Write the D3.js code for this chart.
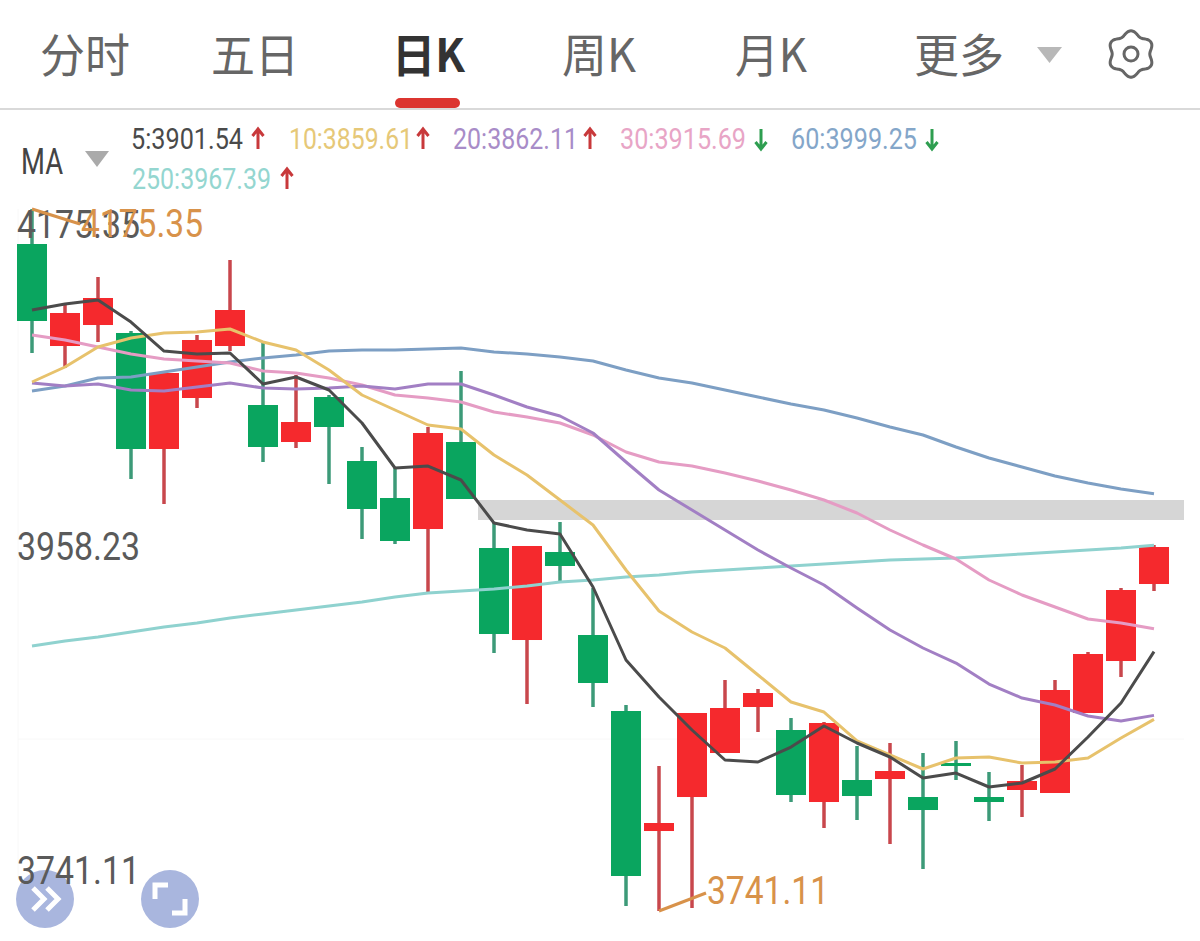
<!DOCTYPE html>
<html>
<head>
<meta charset="utf-8">
<script src="https://cdn.jsdelivr.net/npm/d3@7/dist/d3.min.js"></script>
<style>
html,body{margin:0;padding:0;background:#fff;}
svg{display:block;}
text{font-family:Roboto,"Noto Sans CJK SC",sans-serif;}
</style>
</head>
<body>
<div id="chart"></div>
<script>
const tabs = ["分时","五日","日K","周K","月K","更多"];
const maLabels = ["5:3901.54","10:3859.61","20:3862.11","30:3915.69","60:3999.25","250:3967.39"];
const maDirections = ["up","up","up","down","down","up"];
const priceTicks = [4175.35,3958.23,3741.11];
const priceMax = 4175.35, priceMin = 3741.11;

const opens = [4153.70,4090.60,4103.59,4098.65,4026.89,4058.44,4090.60,4054.11,4031.22,4059.06,4019.47,3996.58,3977.40,4031.22,3965.65,3908.74,3963.18,3911.83,3864.82,3790.59,3811.62,3838.84,3867.30,3853.07,3808.53,3822.14,3822.76,3811.62,3832.66,3811.62,3815.96,3814.10,3863.59,3895.75,3943.38];
const highs = [4175.35,4115.97,4133.29,4099.88,4073.90,4097.41,4143.80,4092.46,4072.67,4060.29,4028.13,4015.76,4040.50,4075.14,3981.73,3966.89,3981.73,3940.91,3868.53,3830.80,3863.59,3884.00,3878.43,3860.49,3858.02,3843.17,3845.03,3838.84,3846.27,3827.09,3831.42,3884.00,3901.32,3940.91,3967.51];
const lows = [4086.27,4077.00,4093.08,4008.33,3992.87,4052.25,4087.51,4018.85,4027.51,4005.24,3971.22,3968.13,3938.43,3995.96,3900.70,3869.15,3945.24,3867.30,3744.20,3741.11,3742.96,3838.84,3851.83,3808.53,3792.45,3797.40,3782.55,3767.09,3822.14,3796.78,3799.25,3814.10,3863.59,3885.85,3939.05];
const closes = [4106.07,4111.02,4120.30,4026.89,4073.90,4094.32,4112.87,4028.13,4043.59,4040.50,3989.78,3969.98,4036.79,3995.96,3912.45,3966.89,3954.52,3882.14,3762.76,3795.54,3863.59,3866.68,3875.96,3812.86,3857.40,3812.24,3827.71,3803.58,3830.80,3808.53,3821.52,3877.81,3900.08,3939.67,3966.27];

const ma5 = [4112.87,4116.58,4119.06,4105.45,4087.51,4085.66,4086.27,4067.10,4071.43,4063.39,4042.97,4015.14,4016.37,4007.72,3981.12,3976.79,3974.31,3941.53,3896.37,3873.48,3853.07,3834.51,3833.28,3842.55,3855.54,3845.03,3836.37,3823.38,3826.47,3817.81,3820.29,3828.95,3848.74,3869.77,3901.54];
const ma10 = [4068.34,4077.61,4089.99,4095.55,4098.65,4099.26,4101.12,4093.08,4088.13,4075.76,4060.29,4051.02,4041.74,4039.26,4023.18,4010.81,3995.34,3979.88,3952.04,3926.68,3913.69,3903.79,3887.09,3870.39,3864.20,3846.27,3837.61,3828.95,3835.75,3836.37,3832.66,3833.28,3835.75,3848.12,3859.61];
const ma20 = [4067.72,4065.86,4067.10,4063.39,4062.77,4065.24,4067.72,4064.62,4064.01,4064.62,4065.86,4064.01,4067.10,4067.10,4060.29,4052.87,4047.30,4036.79,4018.85,4001.53,3989.16,3976.79,3964.41,3953.28,3942.76,3928.54,3914.93,3903.79,3894.51,3881.52,3872.86,3868.53,3861.73,3858.64,3862.11];
const ma30 = [4097.41,4094.32,4089.99,4085.66,4082.56,4081.33,4080.09,4075.14,4073.90,4070.81,4066.48,4060.29,4058.44,4055.96,4049.78,4046.69,4042.97,4035.55,4025.03,4018.85,4016.37,4012.04,4007.10,4001.53,3995.34,3987.30,3976.79,3967.51,3958.85,3945.86,3936.58,3929.16,3921.73,3919.26,3915.69];
const ma60 = [4062.77,4065.86,4070.81,4071.43,4074.52,4077.61,4080.71,4083.18,4085.04,4087.51,4088.13,4088.13,4088.75,4089.37,4086.89,4085.66,4083.80,4081.33,4075.76,4070.81,4067.72,4063.39,4059.06,4054.73,4051.02,4046.07,4040.50,4035.55,4028.13,4021.32,4015.76,4010.19,4005.86,4002.15,3999.25];
const ma250 = [3905.03,3908.12,3910.60,3913.69,3916.78,3919.26,3922.35,3924.83,3927.30,3929.77,3932.25,3935.34,3937.82,3939.05,3940.29,3942.15,3944.62,3945.86,3947.71,3948.95,3950.81,3952.04,3953.28,3954.52,3955.75,3956.99,3958.23,3958.85,3959.47,3960.70,3961.94,3963.18,3964.41,3965.65,3967.39];

const W = 1200, H = 941;
const svg = d3.select("#chart").append("svg").attr("width",W).attr("height",H).attr("viewBox",`0 0 ${W} ${H}`);

const x = d3.scalePoint().domain(d3.range(opens.length)).range([32,1154]);
const y = d3.scaleLinear().domain([priceMin,priceMax]).range([911,209]);

// ---------- tabs
const tabPos = [{x:40,w:90},{x:211,w:88},{x:392,w:73},{x:562,w:74},{x:735,w:72},{x:914,w:90}];
svg.append("g").selectAll("text").data(tabs).join("text")
  .attr("x",(d,i)=>tabPos[i].x).attr("y",72)
  .attr("font-size",46)
  .attr("font-weight",(d,i)=>i===2?700:400)
  .attr("fill",(d,i)=>i===2?"#333":"#666")
  .attr("textLength",(d,i)=>tabPos[i].w).attr("lengthAdjust","spacingAndGlyphs")
  .style("font-family",'"Noto Sans CJK SC",sans-serif')
  .text(d=>d);
svg.append("rect").attr("x",395).attr("y",98).attr("width",65).attr("height",10).attr("rx",5).attr("fill","#dc3530");
svg.append("rect").attr("x",0).attr("y",108).attr("width",W).attr("height",2).attr("fill","#d9d9d9");
svg.append("path").attr("d","M1037,47L1062,47L1049.5,63Z").attr("fill","#b8b8b8");

// gear icon
const gear = svg.append("g").attr("transform","translate(1131,54)");
const gearPts = d3.range(0,360,3).map(a=>{
  const t=a*Math.PI/180, r=21+2.2*Math.cos(6*t);
  return [r*Math.sin(t),-r*Math.cos(t)];
});
gear.append("path").attr("d",d3.line().curve(d3.curveCardinalClosed)(gearPts)).attr("fill","none").attr("stroke","#666").attr("stroke-width",3);
gear.append("circle").attr("r",7).attr("fill","none").attr("stroke","#666").attr("stroke-width",3);

// ---------- MA legend
svg.append("text").attr("x",21).attr("y",174).attr("font-size",37).attr("fill","#444").attr("textLength",42).attr("lengthAdjust","spacingAndGlyphs").text("MA");
svg.append("path").attr("d","M85,151L109,151L97,167Z").attr("fill","#aaa");
const maColors = ["#4a4a4a","#e6c878","#a88cc8","#e8a5c6","#84a6c9","#94d6d0"];
const legendPos = [{x:131,w:112,y:149,a:258},{x:289,w:124,y:149,a:423},{x:453,w:125,y:149,a:590},{x:620,w:126,y:149,a:761},{x:791,w:126,y:149,a:932},{x:132,w:139,y:189,a:287}];
const lg = svg.append("g");
lg.selectAll("text").data(maLabels).join("text")
  .attr("x",(d,i)=>legendPos[i].x).attr("y",(d,i)=>legendPos[i].y)
  .attr("font-size",29)
  .attr("fill",(d,i)=>maColors[i])
  .attr("textLength",(d,i)=>legendPos[i].w).attr("lengthAdjust","spacingAndGlyphs")
  .text(d=>d);
lg.selectAll("path").data(maDirections).join("path")
  .attr("d",(d,i)=>{
    const p=legendPos[i], X=p.a, top=p.y-20, bot=p.y;
    return d==="up"
      ? `M${X},${bot}L${X},${top+2}M${X-5.5},${top+7}L${X},${top}L${X+5.5},${top+7}`
      : `M${X},${top}L${X},${bot-2}M${X-5.5},${bot-7}L${X},${bot}L${X+5.5},${bot-7}`;
  })
  .attr("fill","none").attr("stroke-width",3)
  .attr("stroke",d=>d==="up"?"#c8393b":"#2e9e50");

// ---------- faint frame
const frame = svg.append("g").attr("stroke","#f8f8f8").attr("stroke-width",1);
frame.append("line").attr("x1",18).attr("x2",18).attr("y1",209).attr("y2",880);
frame.append("line").attr("x1",18).attr("x2",1184).attr("y1",739).attr("y2",739);

// ---------- grey band
svg.append("rect").attr("x",478).attr("y",500).attr("width",706).attr("height",20).attr("fill","#d6d6d6");

// ---------- candles
const candles = opens.map((o,i)=>({i,o,h:highs[i],l:lows[i],c:closes[i]}));
const isUp = c => c.c>=c.o;
const bodyW = 30;
const cg = svg.append("g");
cg.selectAll("line").data(candles).join("line")
  .attr("x1",d=>x(d.i)).attr("x2",d=>x(d.i))
  .attr("y1",d=>y(d.h)).attr("y2",d=>y(d.l))
  .attr("stroke",d=>isUp(d)?"#c8474c":"#3c9a78").attr("stroke-width",3.5);
cg.selectAll("rect").data(candles).join("rect")
  .attr("x",d=>x(d.i)-bodyW/2).attr("width",bodyW)
  .attr("y",d=>y(Math.max(d.o,d.c)))
  .attr("height",d=>Math.max(3,Math.abs(y(d.o)-y(d.c))))
  .attr("fill",d=>isUp(d)?"#f5292d":"#0aa55f");

// ---------- MA lines
const maSeries = [ma250,ma60,ma30,ma20,ma10,ma5];
const maLineColors = ["#8fd2cf","#7d9fc4","#e59cc4","#a27fc4","#e7c26c","#4b4b4b"];
const line = d3.line().x((d,i)=>x(i)).y(d=>y(d));
svg.append("g").selectAll("path").data(maSeries).join("path")
  .attr("d",d=>line(d)).attr("fill","none")
  .attr("stroke",(d,i)=>maLineColors[i]).attr("stroke-width",3).attr("stroke-linejoin","round");

// ---------- buttons
const btn = svg.append("g");
btn.selectAll("circle").data([45,170]).join("circle").attr("cx",d=>d).attr("cy",899).attr("r",29).attr("fill","#a9b6de");
btn.append("path").attr("d","M33,888L44,899L33,910M47,888L58,899L47,910").attr("fill","none").attr("stroke","#fff").attr("stroke-width",5);
btn.append("path").attr("d","M155,899L155,885L168,885M185,899L185,913L172,913").attr("fill","none").attr("stroke","#fff").attr("stroke-width",5);

// ---------- price axis
const dyFor = {"4175.35":28,"3958.23":-1,"3741.11":-28};
const axis = d3.axisRight(y).tickValues(priceTicks).tickSize(0).tickPadding(0).tickFormat(d3.format(".2f"));
const ag = svg.append("g").attr("transform","translate(17,0)").call(axis);
ag.select(".domain").remove();
ag.selectAll("text")
  .attr("x",0).attr("dy",null)
  .attr("y",d=>dyFor[d.toFixed(2)])
  .attr("text-anchor","start")
  .attr("font-size",38)
  .attr("fill","#5a5a5a")
  .style("font-family","Roboto,sans-serif")
  .attr("textLength",123).attr("lengthAdjust","spacingAndGlyphs");

// ---------- hi / lo callouts
const hiIdx = d3.maxIndex(highs), loIdx = d3.minIndex(lows);
const callColor = "#d8924a";
svg.append("path").attr("d",`M${x(hiIdx)},${y(highs[hiIdx])}L80,224`).attr("fill","none").attr("stroke",callColor).attr("stroke-width",3);
svg.append("path").attr("d",`M${x(loIdx)},${y(lows[loIdx])}L706,893`).attr("fill","none").attr("stroke",callColor).attr("stroke-width",3);
svg.append("text").attr("x",81).attr("y",237).attr("font-size",38).attr("fill",callColor)
  .attr("textLength",122).attr("lengthAdjust","spacingAndGlyphs").text(d3.format(".2f")(highs[hiIdx]));
svg.append("text").attr("x",707).attr("y",904).attr("font-size",38).attr("fill",callColor)
  .attr("textLength",122).attr("lengthAdjust","spacingAndGlyphs").text(d3.format(".2f")(lows[loIdx]));
</script>
</body>
</html>
